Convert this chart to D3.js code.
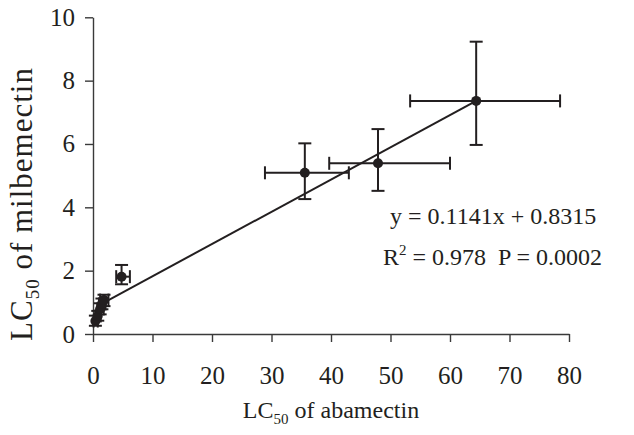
<!DOCTYPE html>
<html>
<head>
<meta charset="utf-8">
<script src="https://cdn.jsdelivr.net/npm/d3@7"></script>
<style>
  html, body { margin: 0; padding: 0; background: #fff; }
  svg { display: block; }
  text { font-family: "Liberation Serif", "Times New Roman", serif; fill: #231f20; }
</style>
</head>
<body>
<svg id="chart" width="634" height="435"></svg>
<script>
// ---- data ----
const abamectin   = [64.4, 35.6, 47.9, 4.8, 0.4, 0.8, 1.2, 1.5, 1.85];
const milbemectin = [7.36, 5.09, 5.39, 1.81, 0.41, 0.57, 0.79, 0.95, 1.07];
const abamectinLo = [53.3, 28.9, 39.7, 3.9, 0.1, 0.4, 0.7, 1.0, 1.2];
const abamectinHi = [78.5, 43.0, 60.0, 6.2, 0.8, 1.3, 1.8, 2.1, 2.6];
const milbemectinLo = [5.97, 4.26, 4.52, 1.57, 0.26, 0.42, 0.62, 0.78, 0.88];
const milbemectinHi = [9.23, 6.02, 6.47, 2.18, 0.58, 0.73, 0.97, 1.12, 1.24];
const xTicks = [0, 10, 20, 30, 40, 50, 60, 70, 80];
const yTicks = [0, 2, 4, 6, 8, 10];
const fitX = [2.3, 64.4];
const fitY = [1.04, 7.36];
const eqLine1 = "y = 0.1141x + 0.8315";
const eqR2 = "0.978", eqP = "0.0002";

// ---- layout ----
const svg = d3.select("#chart");
const ink = "#231f20";
const x = d3.scaleLinear().domain([0, 80]).range([93, 569]);
const y = d3.scaleLinear().domain([0, 10]).range([334, 17.3]);

// axes
const xAxis = svg.append("g").attr("transform", `translate(0,${y(0)})`)
  .call(d3.axisBottom(x).tickValues(xTicks).tickSize(8).tickSizeOuter(0).tickPadding(24));
const yAxis = svg.append("g").attr("transform", `translate(${x(0)},0)`)
  .call(d3.axisLeft(y).tickValues(yTicks).tickSize(8).tickSizeOuter(0).tickPadding(10));
[xAxis, yAxis].forEach(g => {
  g.select(".domain").attr("stroke", "#3a3a3a").attr("stroke-width", 1.4);
  g.selectAll(".tick line").attr("stroke", "#3a3a3a").attr("stroke-width", 1.4);
  g.selectAll(".tick text").attr("font-size", 25)
    .attr("font-family", '"Liberation Serif", "Times New Roman", serif').attr("fill", ink);
});

// trend line
svg.append("line")
  .attr("x1", x(fitX[0])).attr("y1", y(fitY[0]))
  .attr("x2", x(fitX[1])).attr("y2", y(fitY[1]))
  .attr("stroke", ink).attr("stroke-width", 2);

// error bars
const idx = d3.range(abamectin.length);
const cap = 6.5;
const eb = svg.append("g").attr("stroke", ink).attr("stroke-width", 2).attr("fill", "none");
idx.forEach(i => {
  const cx = x(abamectin[i]), cy = y(milbemectin[i]);
  const x1 = x(abamectinLo[i]), x2 = x(abamectinHi[i]);
  const y1 = y(milbemectinLo[i]), y2 = y(milbemectinHi[i]);
  eb.append("line").attr("x1", x1).attr("x2", x2).attr("y1", cy).attr("y2", cy);
  eb.append("line").attr("x1", x1).attr("x2", x1).attr("y1", cy - cap).attr("y2", cy + cap);
  eb.append("line").attr("x1", x2).attr("x2", x2).attr("y1", cy - cap).attr("y2", cy + cap);
  eb.append("line").attr("x1", cx).attr("x2", cx).attr("y1", y1).attr("y2", y2);
  eb.append("line").attr("x1", cx - cap).attr("x2", cx + cap).attr("y1", y1).attr("y2", y1);
  eb.append("line").attr("x1", cx - cap).attr("x2", cx + cap).attr("y1", y2).attr("y2", y2);
});

// points
svg.append("g").selectAll("circle").data(idx).join("circle")
  .attr("cx", i => x(abamectin[i])).attr("cy", i => y(milbemectin[i]))
  .attr("r", 5).attr("fill", ink);

// equation
svg.append("text").attr("x", 390).attr("y", 224).attr("font-size", 24).text(eqLine1);
const t2 = svg.append("text").attr("x", 383).attr("y", 265).attr("font-size", 24).attr("xml:space", "preserve");
t2.append("tspan").text("R");
t2.append("tspan").attr("font-size", 15).attr("dy", -10).text("2");
t2.append("tspan").attr("dy", 10).text(" = " + eqR2 + "  P = " + eqP);

// axis titles
const xt = svg.append("text").attr("x", (x(0) + x(80)) / 2).attr("y", 418)
  .attr("text-anchor", "middle").attr("font-size", 24);
xt.append("tspan").text("LC");
xt.append("tspan").attr("font-size", 15).attr("dy", 6).text("50");
xt.append("tspan").attr("dy", -6).text(" of abamectin");

const yt = svg.append("text")
  .attr("transform", `translate(32,${204}) rotate(-90)`)
  .attr("text-anchor", "middle").attr("font-size", 31).attr("letter-spacing", 1.0);
yt.append("tspan").text("LC");
yt.append("tspan").attr("font-size", 19).attr("dy", 7).text("50");
yt.append("tspan").attr("dy", -7).text(" of milbemectin");
</script>
</body>
</html>
